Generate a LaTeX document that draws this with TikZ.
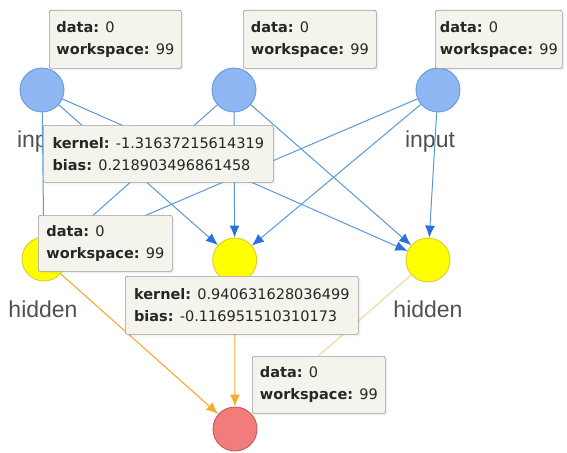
\documentclass[tikz,border=0pt]{standalone}
\usepackage{fontspec}
\newfontfamily\boxfont{DejaVu Sans}
\newfontfamily\labfont{Liberation Sans}
\usepackage{tikz}
\usetikzlibrary{positioning, arrows.meta, shadows}
\definecolor{inblue}{HTML}{8DB6F2}
\definecolor{inedge}{HTML}{6B9AD8}
\definecolor{hidfill}{HTML}{FFFF00}
\definecolor{hidedge}{HTML}{DCCB2A}
\definecolor{outfill}{HTML}{F27B7B}
\definecolor{outedge}{HTML}{C25A5A}
\definecolor{wireblue}{HTML}{5A97D8}
\definecolor{tipblue}{HTML}{2872DC}
\definecolor{wireorange}{HTML}{F2AC30}
\definecolor{wirepale}{HTML}{F2D39A}
\definecolor{boxfill}{HTML}{F4F4EC}
\definecolor{boxedge}{HTML}{9C9C9C}
\definecolor{labgray}{HTML}{505050}

\begin{document}
\begin{tikzpicture}[
  x=1pt, y=-1pt,
  neuron/.style={circle, minimum size=44pt, inner sep=0pt, line width=0.9pt},
  inp/.style={neuron, fill=inblue, draw=inedge},
  hid/.style={neuron, fill=hidfill, draw=hidedge},
  outp/.style={neuron, fill=outfill, draw=outedge},
  lab/.style={font=\labfont\fontsize{23}{26}\selectfont, text=labgray, inner sep=0pt},
  info/.style={rectangle, draw=boxedge, fill=boxfill, line width=0.7pt, rounded corners=2pt,
    anchor=north west, align=left, inner xsep=0pt, inner ysep=0pt,
    font=\boxfont\fontsize{14.5}{22}\selectfont, text=black!85,
    drop shadow={shadow xshift=2pt, shadow yshift=-2pt, opacity=0.12}},
  fwdwire/.style={draw=wireblue, line width=1pt, -{Latex[length=12pt, width=10pt, color=tipblue]}},
  bckwire/.style={draw=wireorange, line width=1.1pt, -{Latex[length=12pt, width=10pt, color=wireorange]}},
  palewire/.style={draw=wirepale, line width=1pt, -{Latex[length=12pt, width=10pt, color=wirepale]}}
]
\useasboundingbox (0,0) rectangle (567,452);

% layers
\node[inp] (in1) at (42,90) {};
\node[inp] (in2) at (234,90) {};
\node[inp] (in3) at (438,90) {};
\node[hid] (h1) at (44,259) {};
\node[hid] (h2) at (234.7,260) {};
\node[hid] (h3) at (428,260) {};
\node[outp] (o1) at (235,429) {};

\node[lab] (lin1) at (42,142) {input};
\node[lab] (lin3) at (430,142) {input};
\node[lab] (lh1) at (43,309) {hidden};
\node[lab] (lh3) at (428,309) {hidden};

% connections
\foreach \i in {1,2,3}
  \foreach \j in {1,2,3}
    \draw[fwdwire] (in\i) -- (h\j);
\draw[bckwire] (h1) -- (o1);
\draw[bckwire] (h2) -- (o1);
\draw[palewire] (h3) -- (o1);

% info boxes
\node[info, minimum width=132pt, minimum height=58pt] (d1) at (49,10) {\textbf{data:} 0\\\textbf{workspace:} 99};
\node[info, minimum width=133pt, minimum height=58pt] (d2) at (243,10) {\textbf{data:} 0\\\textbf{workspace:} 99};
\node[info, minimum width=127pt, minimum height=58pt] (d3) at (435,10) {\textbf{data:} 0\\\textbf{workspace:} 99};
\node[info, minimum width=230pt, minimum height=57pt] (k1) at (43,125) {\textbf{kernel:} -1.31637215614319\\\textbf{bias:} 0.218903496861458};
\node[info, minimum width=134pt, minimum height=56pt] (d4) at (38,215) {\textbf{data:} 0\\\textbf{workspace:} 99};
\node[info, minimum width=233pt, minimum height=58pt] (k2) at (125,276) {\textbf{kernel:} 0.940631628036499\\\textbf{bias:} -0.116951510310173};
\node[info, minimum width=133pt, minimum height=57pt] (d5) at (252,356) {\textbf{data:} 0\\\textbf{workspace:} 99};
\end{tikzpicture}
\end{document}
